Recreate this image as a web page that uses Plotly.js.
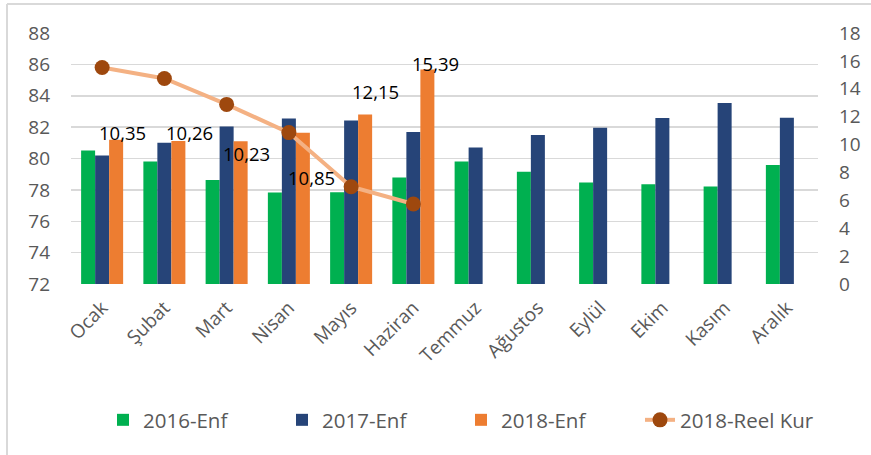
<!DOCTYPE html>
<html>
<head>
<meta charset="utf-8">
<script src="https://cdn.plot.ly/plotly-3.0.1.min.js"></script>
<style>html,body{margin:0;padding:0;background:#fff;}#chart{width:871px;height:455px;}</style>
</head>
<body>
<div id="chart"></div>
<script>
// Categories (months)
const months = ["Ocak","Şubat","Mart","Nisan","Mayıs","Haziran","Temmuz","Ağustos","Eylül","Ekim","Kasım","Aralık"];
// Inflation series (right axis, %)
const enf2016 = [9.58, 8.78, 7.46, 6.57, 6.58, 7.64, 8.79, 8.05, 7.28, 7.16, 7.00, 8.53];
const enf2017 = [9.22, 10.13, 11.29, 11.87, 11.72, 10.90, 9.79, 10.68, 11.20, 11.90, 12.98, 11.92];
const enf2018 = [10.35, 10.26, 10.23, 10.85, 12.15, 15.39, null, null, null, null, null, null];
// Real exchange rate index 2018 (left axis)
const reelKur2018 = [85.8, 85.1, 83.45, 81.65, 78.2, 77.1, null, null, null, null, null, null];
// Data label texts for 2018-Enf
const enf2018Labels = ["10,35","10,26","10,23","10,85","12,15","15,39"];

// label offsets (styling only)
const labelShiftX = [20, 25, 20, 23, 24, 22];
const labelShiftY = [7, 8, -12, -45, 23, 6];

const gray = "#595959";
const font = "Open Sans, Liberation Sans, sans-serif";

const traces = [
  {type:"bar", name:"2016-Enf", x:months, y:enf2016, yaxis:"y", marker:{color:"#00b050"}},
  {type:"bar", name:"2017-Enf", x:months, y:enf2017, yaxis:"y", marker:{color:"#264478"}},
  {type:"bar", name:"2018-Enf", x:months, y:enf2018, yaxis:"y", marker:{color:"#ed7d31"}},
  {type:"scatter", mode:"lines+markers", name:"2018-Reel Kur", x:months, y:reelKur2018, yaxis:"y2",
   line:{color:"#f4b183", width:4}, marker:{color:"#9e480e", size:15}}
];

const annotations = enf2018Labels.map((t,i)=>({
  x: months[i], y: enf2018[i], xref:"x", yref:"y", text:t, showarrow:false,
  xanchor:"center", yanchor:"middle", xshift:labelShiftX[i], yshift:labelShiftY[i],
  font:{family:font, size:18.5, color:"#000"}
}));

const layout = {
  width:871, height:455,
  margin:{l:71, r:53, t:33, b:171, autoexpand:false},
  paper_bgcolor:"#fff", plot_bgcolor:"rgba(0,0,0,0)",
  barmode:"group", bargap:0.325, bargroupgap:0,
  showlegend:true,
  legend:{orientation:"h", xref:"container", yref:"container", x:103/871, xanchor:"left", y:(455-420)/455, yanchor:"middle",
          font:{family:font, size:20.5, color:gray}, entrywidth:134, entrywidthmode:"pixels",
          itemclick:false, traceorder:"normal"},
  xaxis:{type:"category", range:[-0.5, 11.5], tickangle:-45, tickfont:{family:font, size:19, color:gray},
         showline:false, ticks:"", showgrid:false, zeroline:false, automargin:false, ticklabelstandoff:8},
  yaxis:{side:"right", range:[0,18], dtick:2, tickfont:{family:font, size:19, color:gray},
         showgrid:false, zeroline:false, showline:false, ticks:"", automargin:false, ticklabelstandoff:20},
  yaxis2:{overlaying:"y", side:"left", range:[72,88], dtick:2, tickfont:{family:font, size:19, color:gray},
          showgrid:true, gridcolor:"#d9d9d9", gridwidth:1.5, zeroline:false, showline:false, ticks:"",
          automargin:false, ticklabelstandoff:20},
  annotations: annotations,
  shapes:[
    {type:"line", xref:"paper", yref:"paper", x0:-0.0857, x1:1.08, y0:1.1155, y1:1.1155, line:{color:"#d9d9d9", width:2}},
    {type:"line", xref:"paper", yref:"paper", x0:-0.0857, x1:-0.0857, y0:1.1155, y1:-0.7, line:{color:"#d9d9d9", width:2}}
  ]
};

Plotly.newPlot("chart", traces, layout, {displayModeBar:false, staticPlot:true});
</script>
</body>
</html>
